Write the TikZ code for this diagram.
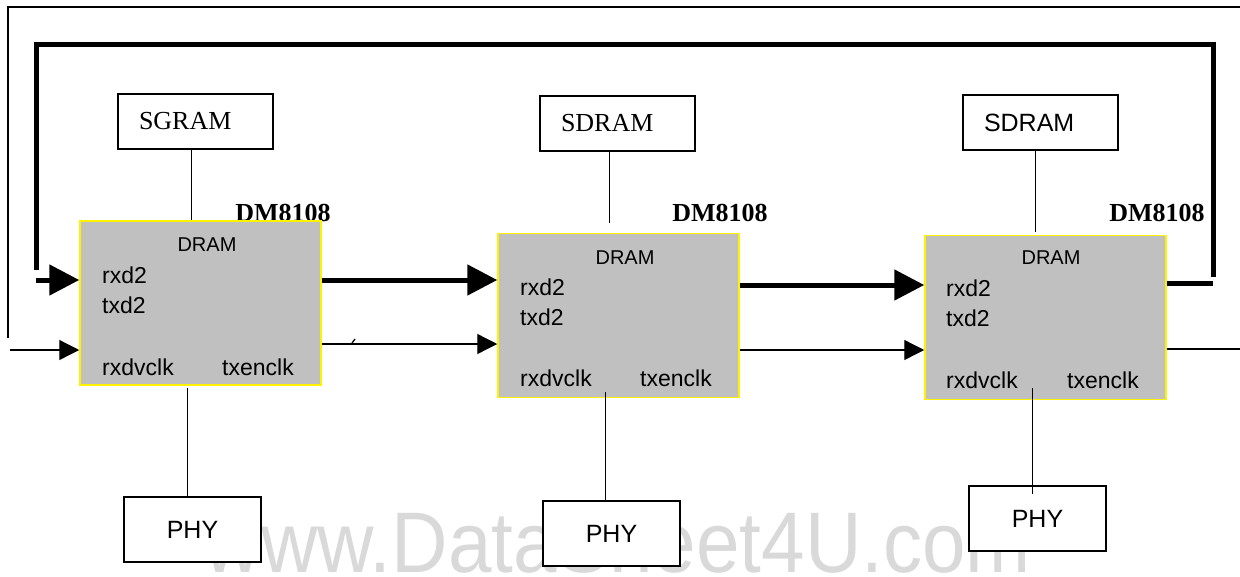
\documentclass[tikz,border=0pt]{standalone}
\usepackage{fontspec}
\setmainfont{Liberation Serif}
\newfontfamily\arial{Liberation Sans}
\usetikzlibrary{arrows.meta}
\definecolor{chipgray}{RGB}{192,192,192}
\definecolor{markgray}{RGB}{217,217,217}

\begin{document}
\begin{tikzpicture}[x=1pt,y=1pt,yscale=-1,xscale=1,
  wire/.style={line width=1.3pt},
  bus/.style={line width=5pt},
  wirearrow/.style={wire,-{Triangle[length=20pt,width=20pt]}},
  busarrow/.style={bus,-{Triangle[length=30pt,width=30pt]}},
  chip/.style={draw=yellow,line width=1.5pt,fill=chipgray,minimum width=241pt,minimum height=164pt,inner sep=0pt},
  mem/.style={draw,line width=1.2pt,fill=white,text width=113pt,inner xsep=21pt,align=left,minimum height=55pt,font=\fontsize{26}{28}\selectfont},
  phybox/.style={draw,line width=1.2pt,fill=white,minimum width=137pt,minimum height=65pt,font=\arial\fontsize{25}{28}\selectfont},
  pin/.style={anchor=west,inner sep=0pt,font=\arial\fontsize{23}{26}\selectfont},
  dramlbl/.style={inner sep=0pt,font=\arial\fontsize{20}{22}\selectfont},
  partno/.style={inner sep=0pt,font=\bfseries\fontsize{26}{28}\selectfont}]
\useasboundingbox (0,0) rectangle (1240,576);

% Watermark
\node[anchor=base,inner sep=0pt,text=markgray,font=\arial\fontsize{86}{90}\selectfont,xscale=0.91] (mark) at (618,572) {www.DataSheet4U.com};

% Text Node
\node[partno] (part1) at (283,213) {DM8108};
% Text Node
\node[partno] (part2) at (720,213) {DM8108};
% Text Node
\node[partno] (part3) at (1157,213) {DM8108};

%Shape: Rectangle
\node[chip] (dm1) at (200.5,303) {};
%Shape: Rectangle
\node[chip] (dm2) at (618.5,315.5) {};
%Shape: Rectangle
\node[chip] (dm3) at (1045.5,317.5) {};

%Shape: Rectangle
\node[mem] (mem1) at (195.5,121.5) {SGRAM};
%Shape: Rectangle
\node[mem] (mem2) at (617.5,123.5) {SDRAM};
%Shape: Rectangle
\node[mem,font=\arial\fontsize{25}{28}\selectfont] (mem3) at (1040.5,122.5) {SDRAM};

%Shape: Rectangle
\node[phybox] (phy1) at (192.5,529.5) {PHY};
%Shape: Rectangle
\node[phybox] (phy2) at (611.5,533.5) {PHY};
%Shape: Rectangle
\node[phybox] (phy3) at (1037.5,518.5) {PHY};

% Text Node
\node[dramlbl] (dram1) at (207,245) {DRAM};
\node[pin] (rx1) at (102,275) {rxd2};
\node[pin] (tx1) at (102,305) {txd2};
\node[pin] (rxclk1) at (102,367) {rxdvclk};
\node[pin] (txclk1) at (222,367) {txenclk};
% Text Node
\node[dramlbl] (dram2) at (625,258) {DRAM};
\node[pin] (rx2) at (520,287) {rxd2};
\node[pin] (tx2) at (520,317) {txd2};
\node[pin] (rxclk2) at (520,378) {rxdvclk};
\node[pin] (txclk2) at (640,378) {txenclk};
% Text Node
\node[dramlbl] (dram3) at (1051,258) {DRAM};
\node[pin] (rx3) at (946,288) {rxd2};
\node[pin] (tx3) at (946,318) {txd2};
\node[pin] (rxclk3) at (946,380) {rxdvclk};
\node[pin] (txclk3) at (1067,380) {txenclk};

\coordinate (tl) at (8,7);
\coordinate (tr) at (1240,7);
\coordinate (inL) at (10,350);
\coordinate (outR) at (1240,349);
\coordinate (nw) at (36,44);
\coordinate (ne) at (1213,44);

%Straight Lines
\draw[wire] (tr) -- (tl) -- (tl |- 0,338);
\draw[wirearrow] (inL) -- (dm1.west |- inL);
\draw[wirearrow] (dm1.east |- 0,344) -- (dm2.west |- 0,344);
\draw[wirearrow] (dm2.east |- 0,350) -- (dm3.west |- 0,350);
\draw[wire] (dm3.east |- outR) -- (outR);
\draw[wire] (352,343) -- (355,339);

%Straight Lines
\draw[bus] (dm3.east |- 0,283) -- (ne |- 0,283);
\draw[bus] (ne |- 0,277) -- (ne) -- (nw) -- (nw |- 0,270);
\draw[busarrow] (nw |- 0,280) -- (dm1.west |- 0,280);
\draw[busarrow] (dm1.east |- 0,280) -- (dm2.west |- 0,280);
\draw[busarrow] (dm2.east |- 0,285) -- (dm3.west |- 0,285);

%Straight Lines
\draw[wire] ([xshift=-4pt]mem1.south) -- ([xshift=-4pt]mem1.south |- dm1.north);
\draw[wire] ([xshift=-8pt]mem2.south) -- ([xshift=-8pt]mem2.south |- 0,223);
\draw[wire] ([xshift=-5pt]mem3.south) -- ([xshift=-5pt]mem3.south |- 0,232);
\draw[wire] ([xshift=-5pt]phy1.north) -- ([xshift=-5pt]phy1.north |- 0,388);
\draw[wire] ([xshift=-6pt]phy2.north) -- ([xshift=-6pt]phy2.north |- 0,392);
\draw[wire] ([xshift=-5pt]phy3.north |- 0,494) -- ([xshift=-5pt]phy3.north |- 0,388);

\end{tikzpicture}
\end{document}
